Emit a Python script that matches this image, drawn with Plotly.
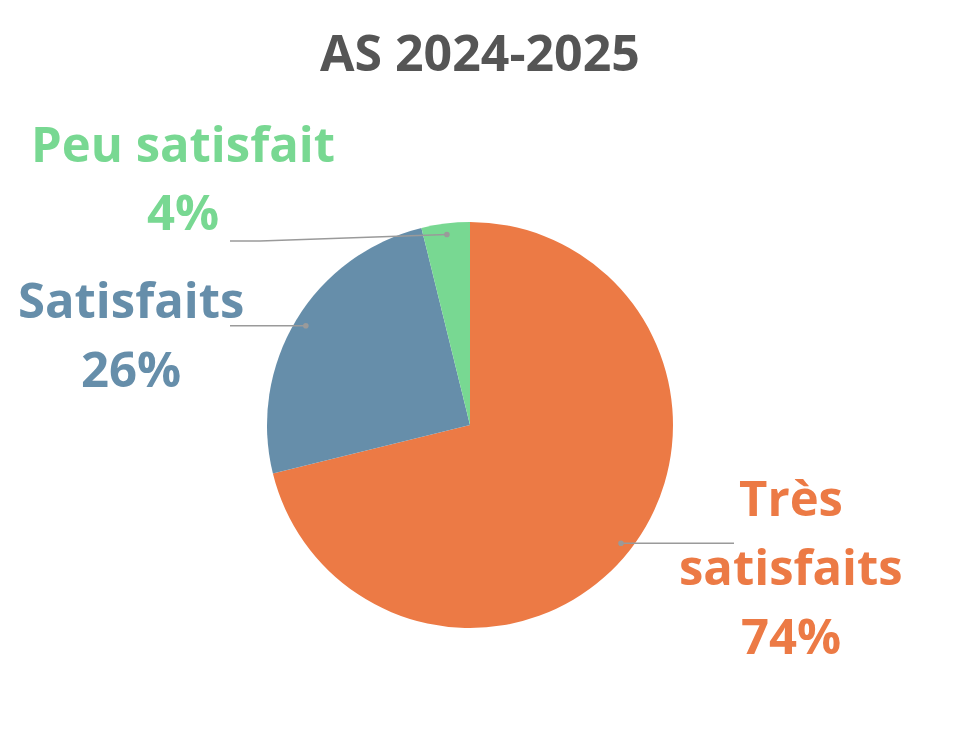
import math
import plotly.graph_objects as go

# ---- data ----
labels = ["Très satisfaits", "Satisfaits", "Peu satisfait"]
label_lines = [["Très", "satisfaits"], ["Satisfaits"], ["Peu satisfait"]]
values = [74, 26, 4]
colors = ["#EC7A45", "#668EAA", "#78D892"]
title = "AS 2024-2025"

# ---- layout (screen pixels; page body has an 8px margin) ----
OFF = 8
W, H = 959 - 2 * OFF, 734 - 2 * OFF
CX, CY, R = 470, 425, 203
label_x = [791, 131, 183]
label_y = [[499, 568, 637], [301, 370], [145, 213]]   # cap-centre of each line
leader_end = [(734, None), (230, None), (230, 241)]  # end x, optional elbow y
DOT_R = 0.945
FS = 49

def px(x):
    return (x - OFF) / W

def py(y):
    return 1 - (y - OFF) / H

fig = go.Figure(go.Pie(
    labels=labels,
    values=values,
    marker=dict(colors=colors, line=dict(width=0)),
    sort=False,
    direction="clockwise",
    rotation=0,
    textinfo="none",
    hoverinfo="label+value",
    showlegend=False,
    domain=dict(x=[px(CX - R), px(CX + R)], y=[py(CY + R), py(CY - R)]),
))

total = sum(values)
cum = 0
shapes = []
annotations = []
for i, v in enumerate(values):
    theta = 2 * math.pi * (cum + v / 2) / total
    cum += v
    dx = CX + DOT_R * R * math.sin(theta)
    dy = CY - DOT_R * R * math.cos(theta)
    ex, ey = leader_end[i]
    if ey is None:
        path = f"M {px(dx)} {py(dy)} L {px(ex)} {py(dy)}"
    else:
        mx = ex + 30 if ex < CX else ex - 30
        path = f"M {px(dx)} {py(dy)} L {px(mx)} {py(ey)} L {px(ex)} {py(ey)}"
    shapes.append(dict(type="path", path=path, xref="paper", yref="paper",
                       line=dict(color="#9A9A9A", width=1.5)))
    shapes.append(dict(type="circle", xref="paper", yref="paper",
                       x0=px(dx - 2.8), x1=px(dx + 2.8), y0=py(dy + 2.8), y1=py(dy - 2.8),
                       fillcolor="#9A9A9A", line=dict(width=0)))
    lines = label_lines[i] + [f"{v}%"]
    for j, t in enumerate(lines):
        annotations.append(dict(
            x=px(label_x[i]), y=py(label_y[i][j] - 2), xref="paper", yref="paper",
            text=t, showarrow=False,
            xanchor="center", yanchor="middle", align="center",
            font=dict(family="Open Sans", size=FS, color=colors[i], weight=700),
        ))

annotations.append(dict(
    x=px(480), y=py(52), xref="paper", yref="paper", text=title, showarrow=False,
    xanchor="center", yanchor="middle",
    font=dict(family="Open Sans", size=50, color="#555555", weight=700),
))

fig.update_layout(
    width=W, height=H,
    margin=dict(l=0, r=0, t=0, b=0),
    paper_bgcolor="white", plot_bgcolor="white",
    shapes=shapes, annotations=annotations,
)

fig.write_html("out.html")
